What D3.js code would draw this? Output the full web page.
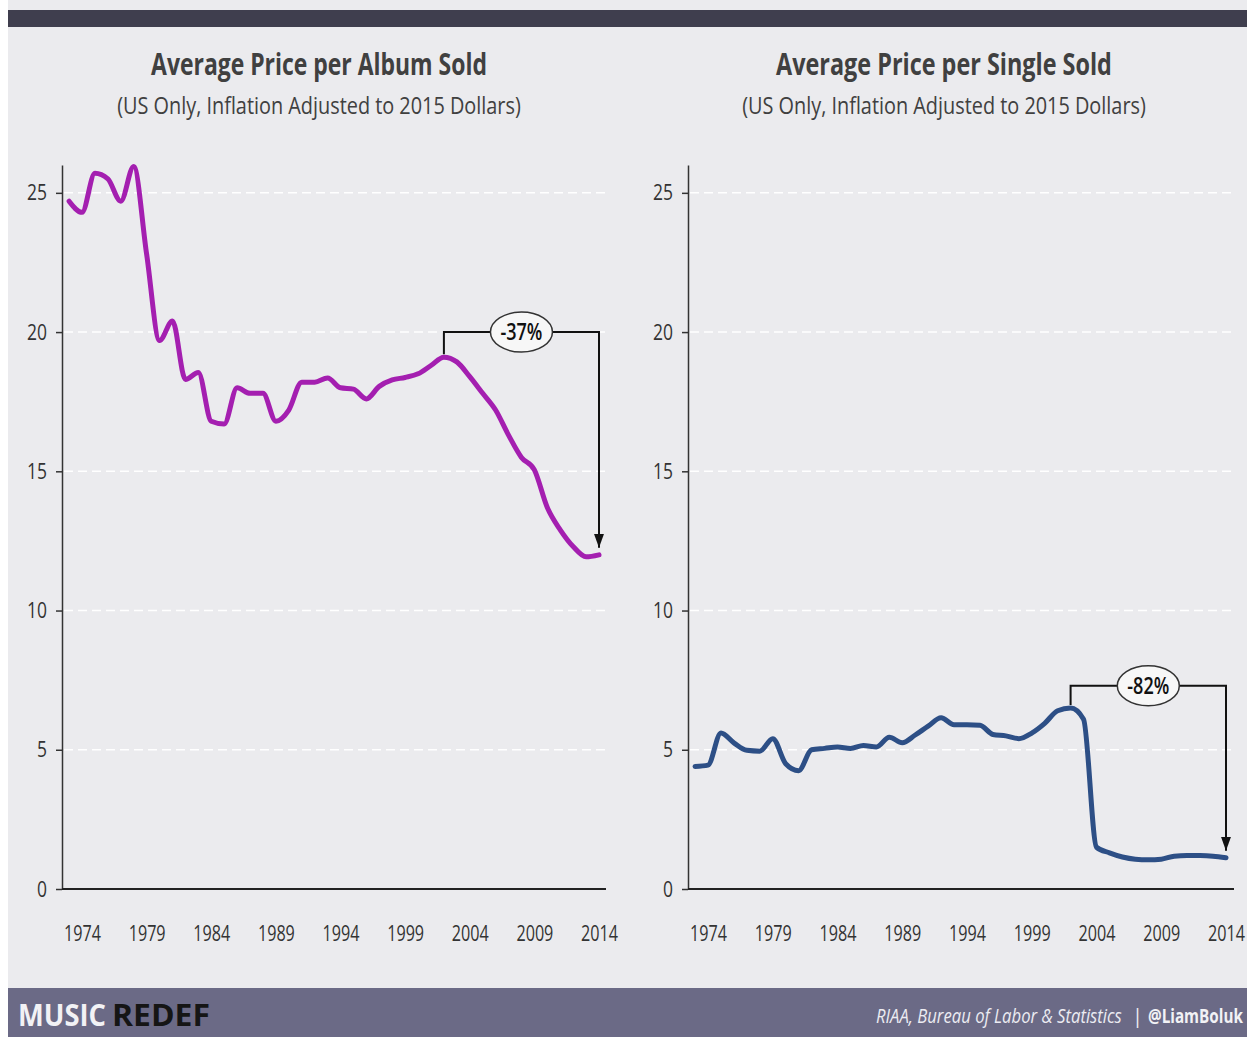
<!DOCTYPE html>
<html><head><meta charset="utf-8">
<script src="https://cdn.jsdelivr.net/npm/d3@7"></script>
<style>
body{margin:0;background:#ffffff;}
text{font-family:"Open Sans","Noto Sans",sans-serif;}
</style>
</head><body>
<svg id="c" width="1247" height="1037"></svg>
<script>
// ---- data ----
const years = [1973,1974,1975,1976,1977,1978,1979,1980,1981,1982,1983,1984,1985,1986,1987,1988,1989,1990,1991,1992,1993,1994,1995,1996,1997,1998,1999,2000,2001,2002,2003,2004,2005,2006,2007,2008,2009,2010,2011,2012,2013,2014];
const albumPrice = [24.7,24.3,25.7,25.5,24.7,25.95,22.8,19.7,20.4,18.3,18.55,16.8,16.7,18.0,17.8,17.8,16.8,17.2,18.2,18.2,18.35,18.0,17.95,17.6,18.05,18.28,18.37,18.5,18.8,19.1,18.93,18.4,17.8,17.2,16.3,15.5,15.05,13.7,12.9,12.3,11.93,12.0];
const singlePrice = [4.4,4.45,5.6,5.25,4.98,4.95,5.4,4.5,4.25,5.0,5.05,5.1,5.05,5.15,5.1,5.45,5.25,5.53,5.85,6.15,5.9,5.9,5.88,5.55,5.5,5.4,5.6,5.95,6.4,6.5,6.1,1.5,1.3,1.15,1.07,1.05,1.07,1.18,1.2,1.2,1.18,1.12];
const yTicks = [0,5,10,15,20,25];
const xTicks = [1974,1979,1984,1989,1994,1999,2004,2009,2014];
const titles = ["Average Price per Album Sold","Average Price per Single Sold"];
const subtitle = "(US Only, Inflation Adjusted to 2015 Dollars)";
const changeLabels = ["-37%","-82%"];
const changeFromYear = [2002,2002];
const changeToYear = [2014,2014];
const bracketLevel = [20,7.3];
const sourceText = "RIAA, Bureau of Labor & Statistics";
const handleText = "@LiamBoluk";
</script>
<script>
const svg = d3.select("#c");
const W = 1247, H = 1037;

// background
svg.append("rect").attr("x",8).attr("y",0).attr("width",W-8).attr("height",H).attr("fill","#ebebee");
svg.append("rect").attr("x",8).attr("y",10).attr("width",W-8).attr("height",17).attr("fill","#3f3e4e");
svg.append("rect").attr("x",8).attr("y",988).attr("width",W-8).attr("height",H-988).attr("fill","#6b6a86");

const panels = [
  {title:titles[0], values:albumPrice, color:"#a41fb0", axisX:62, axisEnd:606, x0:82, x1:599, cx:319,
   label:changeLabels[0], from:changeFromYear[0], to:changeToYear[0], level:bracketLevel[0]},
  {title:titles[1], values:singlePrice, color:"#2d4f86", axisX:688, axisEnd:1234, x0:708, x1:1226, cx:944,
   label:changeLabels[1], from:changeFromYear[1], to:changeToYear[1], level:bracketLevel[1]}
];

const defs = svg.append("defs");
defs.append("marker").attr("id","arr").attr("viewBox","0 0 14 10").attr("refX",14).attr("refY",5)
  .attr("markerWidth",14).attr("markerHeight",10).attr("markerUnits","userSpaceOnUse").attr("orient","auto")
  .append("path").attr("d","M0,0 L14,5 L0,10 Z").attr("fill","#111");

// horizontally compress a text to a target width around its anchor x
function fitText(sel, width){
  sel.each(function(){
    const node = this;
    const w = node.getComputedTextLength();
    if (!w) return;
    const k = width / w;
    const x = +node.getAttribute("x") || 0;
    node.setAttribute("transform", `translate(${x},0) scale(${k},1) translate(${-x},0)`);
  });
}

panels.forEach((p,i)=>{
  const g = svg.append("g");
  const vals = p.values;
  const x = d3.scaleLinear().domain([1974,2014]).range([p.x0,p.x1]);
  const y = d3.scaleLinear().domain([0,26]).range([889,165]);

  // titles
  const t = g.append("text").attr("x",p.cx).attr("y",75).attr("text-anchor","middle")
    .attr("font-size",30).attr("font-weight","bold").attr("fill","#404040").text(p.title);
  fitText(t, 336);
  const st = g.append("text").attr("x",p.cx).attr("y",114).attr("text-anchor","middle")
    .attr("font-size",24).attr("fill","#404040").text(subtitle);
  fitText(st, 404);

  // gridlines
  g.append("g").selectAll("line").data(yTicks.filter(d=>d>0)).join("line")
    .attr("x1",p.axisX+2).attr("x2",p.axisEnd).attr("y1",d=>y(d)).attr("y2",d=>y(d))
    .attr("stroke","#ffffff").attr("stroke-width",1.5).attr("stroke-dasharray","9,5");

  // y axis
  const ya = g.append("g").attr("transform",`translate(${p.axisX},0)`)
    .call(d3.axisLeft(y).tickValues(yTicks).tickSize(6).tickPadding(9).tickSizeOuter(0));
  ya.select(".domain").attr("stroke","#333").attr("stroke-width",1.5);
  ya.selectAll(".tick line").attr("stroke","#333").attr("stroke-width",1.5);
  ya.selectAll(".tick text").attr("font-size",22).attr("fill","#333")
    .style("font-family",'"Open Sans",sans-serif')
    .each(function(d){ fitText(d3.select(this), String(d).length*10); });

  // x axis
  g.append("line").attr("x1",p.axisX).attr("x2",p.axisEnd).attr("y1",889).attr("y2",889)
    .attr("stroke","#222").attr("stroke-width",2);
  const xa = g.append("g").attr("transform","translate(0,889)")
    .call(d3.axisBottom(x).tickValues(xTicks).tickFormat(d3.format("d")).tickSize(0).tickPadding(36));
  xa.select(".domain").remove();
  xa.selectAll(".tick text").attr("font-size",22).attr("fill","#333")
    .style("font-family",'"Open Sans",sans-serif');
  fitText(xa.selectAll(".tick text"), 37);

  // line
  const data = years.map((yr,k)=>({yr, v:vals[k]}));
  g.append("path").datum(data)
    .attr("d", d3.line().x(d=>x(d.yr)).y(d=>y(d.v)).curve(d3.curveMonotoneX))
    .attr("fill","none").attr("stroke",p.color).attr("stroke-width",5)
    .attr("stroke-linejoin","round").attr("stroke-linecap","round");

  // bracket annotation
  const vFrom = data.find(d=>d.yr===p.from).v;
  const vTo = data.find(d=>d.yr===p.to).v;
  const xa1 = x(p.from), xa2 = x(p.to), yl = y(p.level);
  g.append("path")
    .attr("d",`M${xa1},${y(vFrom)-3} L${xa1},${yl} L${xa2},${yl} L${xa2},${y(vTo)-7}`)
    .attr("fill","none").attr("stroke","#111").attr("stroke-width",2)
    .attr("marker-end","url(#arr)");
  const ex = (xa1+xa2)/2;
  g.append("ellipse").attr("cx",ex).attr("cy",yl).attr("rx",31).attr("ry",20)
    .attr("fill","#f7f7f7").attr("stroke","#333").attr("stroke-width",1.5);
  const lt = g.append("text").attr("x",ex).attr("y",yl+8).attr("text-anchor","middle")
    .attr("font-size",23).attr("font-weight","600").attr("fill","#111").text(p.label);
  fitText(lt, 42);
});

// footer
const f1 = svg.append("text").attr("x",18).attr("y",1026).attr("font-size",31).attr("font-weight","bold")
  .attr("fill","#f2f2f5").text("MUSIC");
fitText(f1, 88);
const f2 = svg.append("text").attr("x",112).attr("y",1026).attr("font-size",31).attr("font-weight","bold")
  .attr("fill","#151515").text("REDEF");
fitText(f2, 98);

const s1 = svg.append("text").attr("x",876).attr("y",1023).attr("font-size",20).attr("font-style","italic")
  .attr("fill","#ececf2").text(sourceText);
fitText(s1, 246);
svg.append("text").attr("x",1132).attr("y",1023).attr("font-size",20).attr("fill","#ececf2").text("|");
const s2 = svg.append("text").attr("x",1148).attr("y",1023).attr("font-size",20).attr("font-weight","bold")
  .attr("fill","#f2f2f5").text(handleText);
fitText(s2, 95);
</script>
</body></html>
